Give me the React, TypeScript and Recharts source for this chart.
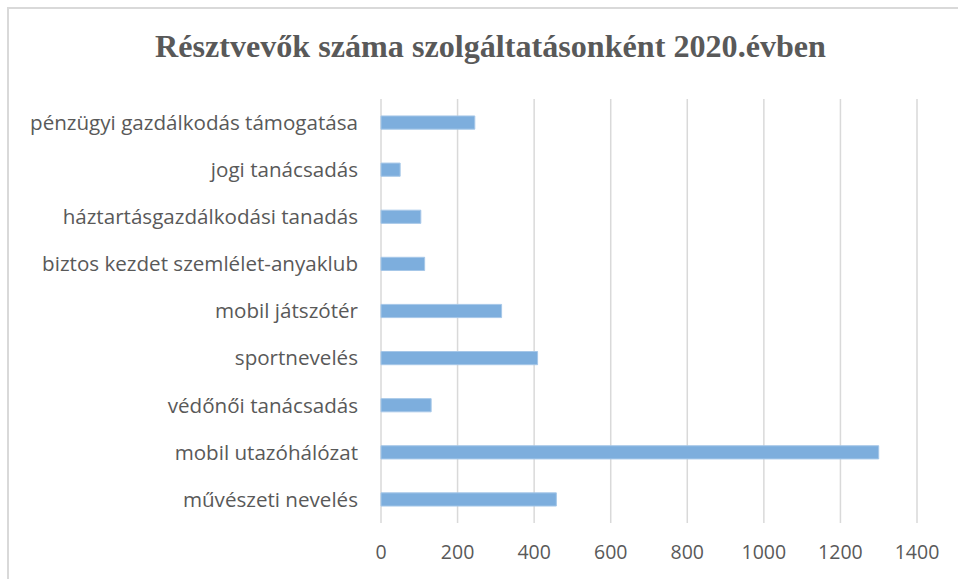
import React from 'react';
import { BarChart, Bar, XAxis, YAxis, CartesianGrid } from 'recharts';

const categories = [
  'pénzügyi gazdálkodás támogatása',
  'jogi tanácsadás',
  'háztartásgazdálkodási tanadás',
  'biztos kezdet szemlélet-anyaklub',
  'mobil játszótér',
  'sportnevelés',
  'védőnői tanácsadás',
  'mobil utazóhálózat',
  'művészeti nevelés',
];
const participants = [245, 50, 104, 114, 315, 409, 131, 1300, 458];
const xTicks = [0, 200, 400, 600, 800, 1000, 1200, 1400];

const title = 'Résztvevők száma szolgáltatásonként 2020.évben';

const data = categories.map((name, i) => ({ name, value: participants[i] }));

const textColor = '#595959';
const gridColor = '#d9d9d9';
const labelFont = "'Open Sans', Calibri, sans-serif";

export default function App() {
  return (
    <div style={{ position: 'fixed', left: 0, top: 0, width: 958, height: 579, background: '#fff' }}>
      <div
        style={{
          position: 'absolute',
          left: 7,
          top: 7,
          width: 958,
          height: 579,
          borderTop: `2px solid ${gridColor}`,
          borderLeft: `2px solid ${gridColor}`,
        }}
      />
      <svg width={958} height={80} style={{ position: 'absolute', left: 0, top: 0 }}>
        <text
          x={155}
          y={57}
          textLength={671}
          lengthAdjust="spacingAndGlyphs"
          fill={textColor}
          fontFamily="'Liberation Serif', 'Times New Roman', serif"
          fontWeight="bold"
          fontSize={31}
        >
          {title}
        </text>
      </svg>
      <div style={{ position: 'absolute', left: 0, top: 0 }}>
        <BarChart
          width={958}
          height={579}
          data={data}
          layout="vertical"
          barCategoryGap="64%"
          margin={{ top: 99, right: 41, bottom: 0, left: 0 }}
        >
          <CartesianGrid horizontal={false} vertical stroke={gridColor} strokeWidth={1.5} />
          <XAxis
            type="number"
            domain={[0, 1400]}
            ticks={xTicks}
            interval={0}
            axisLine={false}
            tickLine={false}
            tickSize={0}
            tickMargin={22}
            height={56}
            tick={{ fill: textColor, fontSize: 19.5, fontFamily: labelFont }}
          />
          <YAxis
            type="category"
            dataKey="name"
            width={381}
            axisLine={false}
            tickLine={false}
            tickSize={0}
            tickMargin={23}
            interval={0}
            tick={{ fill: textColor, fontSize: 20.6, fontFamily: labelFont }}
          />
          <Bar dataKey="value" fill="#7daedd" stroke="#a6c7e8" strokeWidth={1} isAnimationActive={false} />
        </BarChart>
      </div>
    </div>
  );
}
